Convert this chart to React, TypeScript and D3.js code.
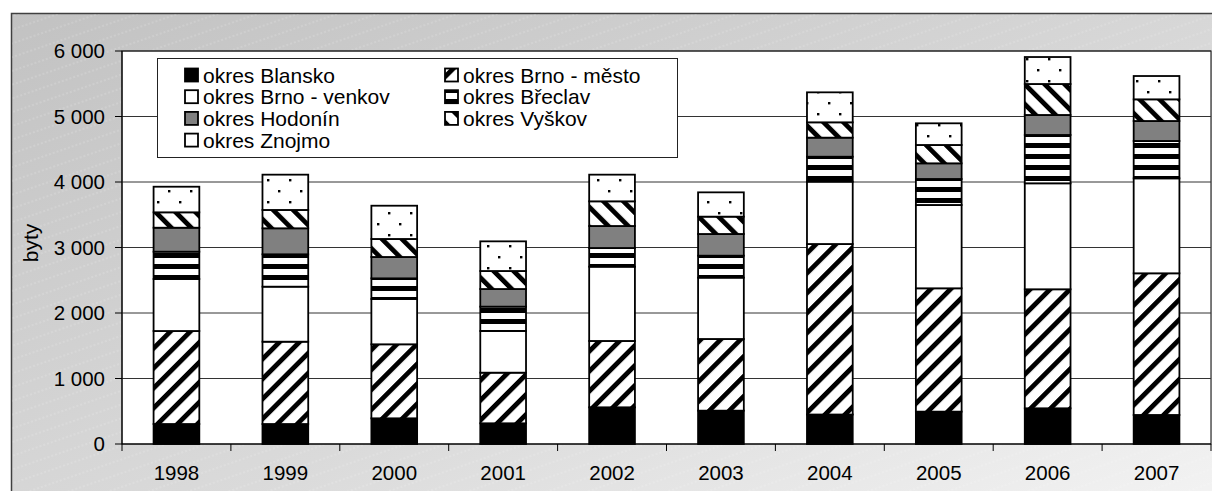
import * as d3 from 'd3';
import React from 'react';

const years = ['1998', '1999', '2000', '2001', '2002', '2003', '2004', '2005', '2006', '2007'];
const blansko = [305, 305, 392, 316, 560, 509, 450, 494, 545, 443];
const brnoMesto = [1420, 1257, 1130, 773, 1013, 1094, 2603, 1883, 1817, 2163];
const brnoVenkov = [794, 840, 692, 636, 1134, 937, 952, 1272, 1618, 1450];
const breclav = [417, 494, 315, 372, 285, 335, 381, 397, 738, 570];
const hodonin = [366, 397, 326, 269, 336, 331, 291, 239, 305, 305];
const vyskov = [235, 280, 275, 275, 377, 265, 234, 280, 473, 331];
const znojmo = [391, 539, 508, 453, 407, 371, 458, 331, 412, 356];
const yTicks = [0, 1000, 2000, 3000, 4000, 5000, 6000];

const series = [
    { name: 'okres Blansko', values: blansko, fill: '#000' },
    { name: 'okres Brno - město', values: brnoMesto, fill: 'url(#p-up)' },
    { name: 'okres Brno - venkov', values: brnoVenkov, fill: '#fff' },
    { name: 'okres Břeclav', values: breclav, fill: 'url(#p-horiz)' },
    { name: 'okres Hodonín', values: hodonin, fill: '#808080' },
    { name: 'okres Vyškov', values: vyskov, fill: 'url(#p-down)' },
    { name: 'okres Znojmo', values: znojmo, fill: 'url(#p-dots)' },
];

// legend order: two columns, row by row
const legendOrder = [0, 1, 2, 3, 4, 5, 6];

const W = 1212;
const H = 491;
const left = 122, right = 1211, top = 51, bottom = 444;
const font = '"Liberation Sans", Arial, sans-serif';

const fmt = d3.formatLocale({ decimal: ',', thousands: ' ', grouping: [3], currency: ['', ''] }).format(',');

export default function App() {
    const x = d3.scaleBand().domain(years).range([left, right]).paddingInner(0.58).paddingOuter(0.29);
    const xb = d3.scaleBand().domain(years).range([left, right]);
    const y = d3.scaleLinear().domain([0, 6000]).range([bottom, top]);

    const table = years.map((yr, i) => {
        const row: any = { year: yr };
        series.forEach((s, k) => { row['s' + k] = s.values[i]; });
        return row;
    });
    const stack = d3.stack().keys(series.map((_, k) => 's' + k))(table);

    const boundaries = years.map(yr => xb(yr) as number).concat([right]);

    return (
        <svg width={W} height={H} style={{ position: 'absolute', left: 0, top: 0 }} fontFamily={font}>
            <defs>
                <linearGradient id="bg" x1="0" y1="0" x2="1" y2="1">
                    <stop offset="0" stopColor="#c2c2c2" />
                    <stop offset="0.55" stopColor="#dadada" />
                    <stop offset="1" stopColor="#f6f6f6" />
                </linearGradient>
                <pattern id="bg-lines" width="40" height="13" patternUnits="userSpaceOnUse" patternTransform="rotate(-19)">
                    <line x1="0" y1="6" x2="40" y2="6" stroke="#fff" strokeOpacity="0.35" strokeWidth="0.8" strokeDasharray="2 2" />
                </pattern>
                <pattern id="p-up" width="14.1" height="14.1" patternUnits="userSpaceOnUse" patternTransform="rotate(45)">
                    <rect width="14.1" height="14.1" fill="#fff" />
                    <rect width="4.8" height="14.1" fill="#000" />
                </pattern>
                <pattern id="p-down" width="14.1" height="14.1" patternUnits="userSpaceOnUse" patternTransform="rotate(-45)">
                    <rect width="14.1" height="14.1" fill="#fff" />
                    <rect width="4.8" height="14.1" fill="#000" />
                </pattern>
                <pattern id="p-horiz" width="10" height="11" patternUnits="userSpaceOnUse">
                    <rect width="10" height="11" fill="#fff" />
                    <rect width="10" height="5" fill="#000" />
                </pattern>
                <pattern id="p-dots" width="22" height="22" patternUnits="userSpaceOnUse">
                    <rect width="22" height="22" fill="#fff" />
                    <rect x="3" y="3" width="2.4" height="2.4" fill="#000" />
                    <rect x="14" y="14" width="2.4" height="2.4" fill="#000" />
                </pattern>
            </defs>

            {/* outer chart area */}
            <rect x={11.5} y={13.5} width={1250} height={520} fill="url(#bg)" stroke="#404040" strokeWidth={1.5} />
            <rect x={12} y={14} width={1250} height={520} fill="url(#bg-lines)" />

            {/* plot area */}
            <rect x={left} y={top} width={right - left} height={bottom - top} fill="#fff" stroke="#000" strokeWidth={1} />

            {yTicks.map(t => (
                <g key={t}>
                    {t > 0 && <line x1={left} x2={right} y1={y(t)} y2={y(t)} stroke="#333" strokeWidth={1} />}
                    <line x1={left - 7} x2={left} y1={y(t)} y2={y(t)} stroke="#000" />
                    <text x={105} y={y(t)} dy="0.36em" textAnchor="end" fontSize={20.5} fill="#000">{fmt(t)}</text>
                </g>
            ))}

            {/* bars */}
            {stack.map((layer, k) => (
                <g key={k}>
                    {layer.map((d, i) => (
                        <rect key={i}
                            x={x(years[i])}
                            y={y(d[1])}
                            width={x.bandwidth()}
                            height={y(d[0]) - y(d[1])}
                            fill={series[k].fill}
                            stroke="#000"
                            strokeWidth={1.8} />
                    ))}
                </g>
            ))}

            {/* axes */}
            <line x1={left} x2={left} y1={top} y2={bottom} stroke="#000" />
            <line x1={left} x2={right} y1={bottom} y2={bottom} stroke="#000" />
            {boundaries.map((b, i) => (
                <line key={i} x1={b} x2={b} y1={bottom} y2={bottom + 7} stroke="#000" />
            ))}
            {years.map(yr => (
                <text key={yr} x={(xb(yr) as number) + xb.bandwidth() / 2} y={480} textAnchor="middle" fontSize={20.5} fill="#000">{yr}</text>
            ))}

            <text transform="translate(38,243) rotate(-90)" textAnchor="middle" fontSize={21} fill="#000">byty</text>

            {/* legend */}
            <rect x={157.5} y={58.5} width={520} height={99} fill="#fff" stroke="#222" strokeWidth={1} />
            {legendOrder.map((k, j) => {
                const col = j % 2;
                const row = Math.floor(j / 2);
                const sx = col === 0 ? 185 : 445;
                const cy = 75 + row * 21.7;
                return (
                    <g key={k}>
                        <rect x={sx} y={cy - 6.5} width={13} height={13} fill={series[k].fill} stroke="#000" strokeWidth={1.8} />
                        <text x={sx + 18} y={cy} dy="0.36em" fontSize={21} fill="#000">{series[k].name}</text>
                    </g>
                );
            })}
        </svg>
    );
}
